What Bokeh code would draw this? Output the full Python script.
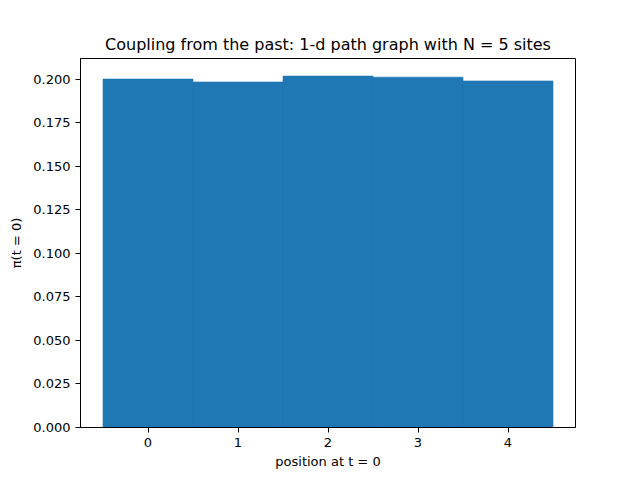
from bokeh.plotting import figure
from bokeh.models import FixedTicker, Range1d, PrintfTickFormatter
from bokeh.embed import file_html
from bokeh.resources import INLINE

positions = [0, 1, 2, 3, 4]
probabilities = [0.2000, 0.1983, 0.2017, 0.2011, 0.1989]
x_ticks = [0, 1, 2, 3, 4]
y_ticks = [0.0, 0.025, 0.05, 0.075, 0.1, 0.125, 0.15, 0.175, 0.2]

p = figure(width=640, height=480, output_backend="svg", toolbar_location=None,
           x_range=Range1d(-0.75, 4.75), y_range=Range1d(0, 0.2118),
           title="Coupling from the past: 1-d path graph with N = 5 sites")
p.min_border_left = 80
p.min_border_right = 65
p.min_border_top = 58
p.min_border_bottom = 53

p.vbar(x=positions, top=probabilities, width=1.0, bottom=0,
       fill_color="#1f77b4", line_color="#1f77b4", line_width=0.6)

p.title.align = "center"
p.title.text_font = "DejaVu Sans"
p.title.text_font_size = "16px"
p.title.text_font_style = "normal"
p.title.text_color = "black"
p.title.offset = 0

p.xgrid.visible = False
p.ygrid.visible = False
p.outline_line_color = "black"
p.outline_line_width = 1

for ax in (p.xaxis[0], p.yaxis[0]):
    ax.axis_line_color = "black"
    ax.major_tick_line_color = "black"
    ax.major_tick_out = 5
    ax.major_tick_in = 0
    ax.minor_tick_line_color = None
    ax.major_label_text_font = "DejaVu Sans"
    ax.major_label_text_font_size = "13px"
    ax.major_label_text_color = "black"
    ax.axis_label_text_font = "DejaVu Sans"
    ax.axis_label_text_font_size = "13px"
    ax.axis_label_text_font_style = "normal"
    ax.axis_label_text_color = "black"

p.xaxis.ticker = FixedTicker(ticks=x_ticks)
p.yaxis.ticker = FixedTicker(ticks=y_ticks)
p.yaxis.formatter = PrintfTickFormatter(format="%.3f")
p.xaxis.axis_label = "position at t = 0"
p.yaxis.axis_label = "π(t = 0)"
p.xaxis.axis_label_standoff = 4
p.yaxis.axis_label_standoff = 6

open("out.html", "w").write(file_html(p, INLINE))
